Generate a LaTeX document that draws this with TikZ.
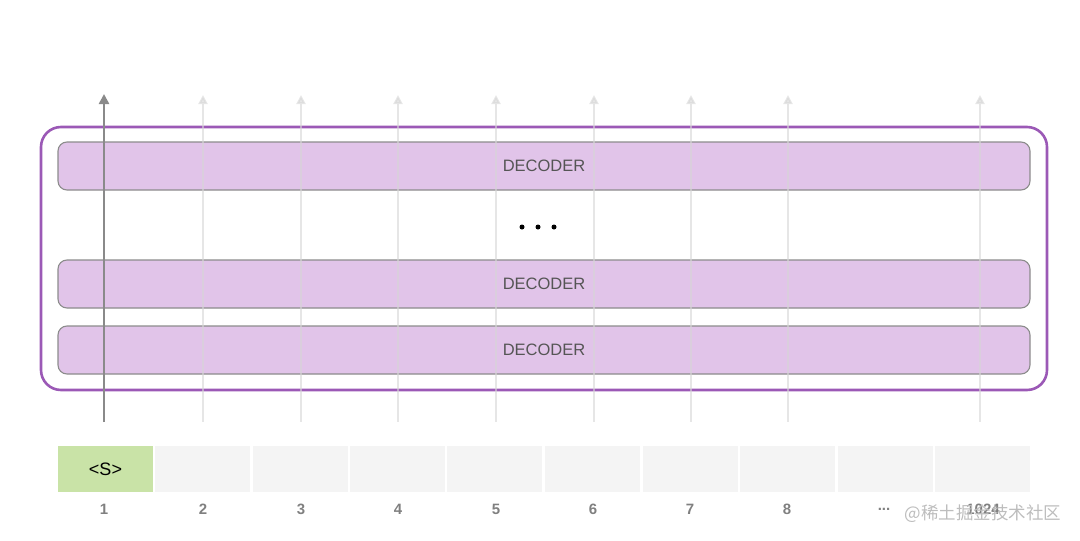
\documentclass[tikz,border=0pt]{standalone}
\usepackage{fontspec}
\setmainfont{Liberation Sans}
\newfontfamily\cjkfont{Noto Sans CJK SC}
\usetikzlibrary{arrows.meta}
\definecolor{framepurple}{HTML}{9B59B6}
\definecolor{decfill}{HTML}{E1C4E9}
\definecolor{decborder}{HTML}{8C8C8C}
\definecolor{greentok}{HTML}{C9E3A7}
\definecolor{graytok}{HTML}{F4F4F4}
\definecolor{darkarrow}{HTML}{8A8A8A}
\definecolor{lightarrow}{HTML}{D6D6D6}
\definecolor{numgray}{HTML}{808080}
\definecolor{dectext}{HTML}{555555}
\definecolor{wmgray}{HTML}{BDBDBD}
\tikzset{
  frame/.style={draw=framepurple, line width=2.6pt, rounded corners=20pt},
  decoder/.style={draw=decborder, line width=1.1pt, fill=decfill, rounded corners=9pt,
    minimum width=972pt, minimum height=48pt, inner sep=0pt,
    font=\fontsize{16.5}{18}\selectfont, text=dectext},
  token/.style={fill=graytok, minimum width=95pt, minimum height=46pt, inner sep=0pt},
  starttok/.style={token, fill=greentok, font=\fontsize{18}{20}\selectfont, text=black},
  numlab/.style={font=\bfseries\fontsize{15}{17}\selectfont, text=numgray},
  mainarrow/.style={draw=darkarrow, line width=2.4pt, -{Triangle[width=10pt,length=10pt]}},
  sidearrow/.style={draw=lightarrow, line width=2pt, opacity=0.6, -{Triangle[width=9pt,length=9pt]}},
  dot/.style={circle, fill=black, inner sep=0pt, minimum size=5pt},
  watermark/.style={font=\cjkfont\fontsize{17.5}{19}\selectfont, text=wmgray}
}
\begin{document}
\begin{tikzpicture}[x=1pt,y=-1pt]
\useasboundingbox (0,0) rectangle (1080,541);
% outer frame
\node[frame, minimum width=1006pt, minimum height=263pt, inner sep=0pt] (frm) at (544,258.5) {};
% decoders
\node[decoder] (dec1) at (544,166) {DECODER};
\node[decoder] (dec2) at (544,284) {DECODER};
\node[decoder] (dec3) at (544,350) {DECODER};
% dots
\node[dot] (d1) at (522,227) {};
\node[dot] (d2) at (538,227) {};
\node[dot] (d3) at (554,227) {};
% tokens
\node[starttok] (t1) at (105.5,469) {<S>};
\node[token] (t2) at (202.5,469) {};
\node[token] (t3) at (300,469) {};
\node[token] (t4) at (397.5,469) {};
\node[token] (t5) at (494.5,469) {};
\node[token] (t6) at (592.5,469) {};
\node[token] (t7) at (690.5,469) {};
\node[token] (t8) at (787.5,469) {};
\node[token] (t9) at (885,469) {};
\node[token] (t10) at (982.5,469) {};
% numbers
\node[numlab] (n1) at (104,509) {1};
\node[numlab] (n2) at (203,509) {2};
\node[numlab] (n3) at (301,509) {3};
\node[numlab] (n4) at (398,509) {4};
\node[numlab] (n5) at (496,509) {5};
\node[numlab] (n6) at (593,509) {6};
\node[numlab] (n7) at (690,509) {7};
\node[numlab] (n8) at (787,509) {8};
\node[numlab] (n9) at (884,509) {...};
\node[numlab] (n10) at (983,509) {1024};
% arrows
\foreach \i/\x in {2/203,3/301,4/398,5/496,6/594,7/691,8/788,10/980}{
  \coordinate (s\i) at (\x,422);
  \coordinate (e\i) at (\x,95);
  \draw[sidearrow] (s\i) -- (e\i);
}
\coordinate (s1) at (104,422);
\coordinate (e1) at (104,94);
\draw[mainarrow] (s1) -- (e1);
% watermark
\node[watermark, anchor=west] (wm) at (901,514) {@稀土掘金技术社区};
\end{tikzpicture}
\end{document}
